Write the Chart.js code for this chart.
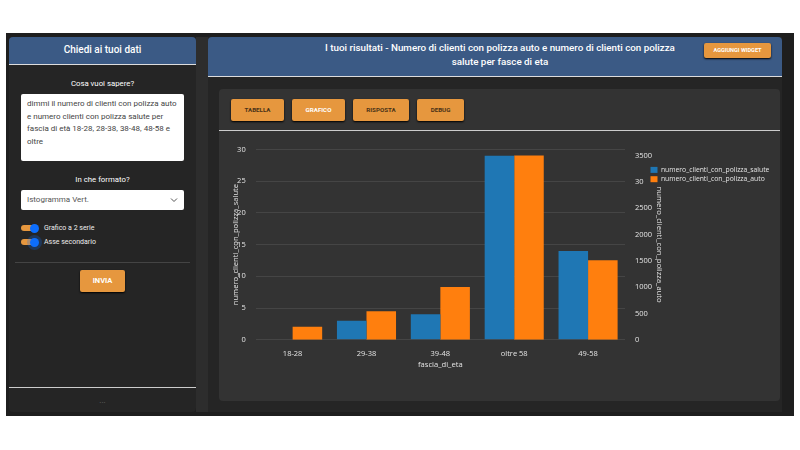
<!DOCTYPE html>
<html>
<head>
<meta charset="utf-8">
<script src="https://cdn.jsdelivr.net/npm/chart.js@4/dist/chart.umd.js"></script>
<style>
  html, body { margin: 0; padding: 0; background: #fff; }
  body { width: 800px; height: 450px; position: relative; overflow: hidden; font-family: Roboto, sans-serif; color: #fff; }
  .box { position: absolute; box-sizing: border-box; }
  .center { text-align: center; }
  .btn { position: absolute; box-sizing: border-box; background: #e6973e; border-radius: 2px; text-align: center; font-weight: 700; box-shadow: 0 1px 2px #000; }
  #frame { left: 6px; top: 33px; width: 788px; height: 383px; background: #1e1e1e; }
  #gutter { left: 196px; top: 37px; width: 12px; height: 375px; background: #2d2d2d; }
  #side { left: 9px; top: 37px; width: 187px; height: 375px; background: #252525; border-radius: 4px; }
  #sideHead { left: 9px; top: 37px; width: 187px; height: 28px; background: #3b5a85; border-bottom: 1px solid #ddd; border-radius: 4px 4px 0 0; font-size: 10px; font-weight: 500; line-height: 26px; }
  #main { left: 208px; top: 37px; width: 574px; height: 375px; background: #252525; }
  #mainHead { left: 208px; top: 37px; width: 574px; height: 40px; background: #3b5a85; border-bottom: 1px solid #ddd; border-radius: 4px 4px 0 0; }
  #mainTitle { left: 315px; top: 41px; width: 370px; font-size: 9.8px; font-weight: 500; line-height: 13.5px; }
  #panel { left: 219px; top: 89px; width: 561px; height: 312px; background: #333; border-radius: 4px; }
  #panelLine { left: 219px; top: 130px; width: 561px; height: 1px; background: #ccc; }
  #question { left: 21px; top: 94px; width: 163px; height: 67px; background: #fff; border-radius: 2px; color: #444; font-size: 8px; line-height: 12.6px; padding: 4px 6px; }
  #format { left: 21px; top: 190px; width: 163px; height: 20px; background: #fff; border-radius: 2px; color: #555; font-size: 8px; line-height: 20px; padding-left: 6px; }
  .label { font-size: 7.8px; }
  .small { font-size: 7px; color: #eee; }
  .track { position: absolute; left: 21px; width: 15px; height: 6px; background: #e6973e; border-radius: 3px; }
  .knob { position: absolute; left: 30px; width: 9px; height: 9px; background: #0d6efd; border-radius: 50%; }
  #chartBox { position: absolute; left: 220px; top: 135px; }
</style>
</head>
<body>
<div class="box" id="frame"></div>
<div class="box" id="gutter"></div>
<div class="box" id="side"></div>
<div class="box center" id="sideHead">Chiedi ai tuoi dati</div>
<div class="box center label" style="left:9px;top:79px;width:187px;">Cosa vuoi sapere?</div>
<div class="box" id="question">dimmi il numero di clienti con polizza auto e numero clienti con polizza salute per fascia di età 18-28, 28-38, 38-48, 48-58 e oltre</div>
<div class="box center label" style="left:9px;top:175px;width:187px;">In che formato?</div>
<div class="box" id="format">Istogramma Vert.</div>
<svg class="box" style="left:170px;top:197px;" width="8" height="6"><path d="M1 1.5 L4 4.5 L7 1.5" fill="none" stroke="#555" stroke-width="1"/></svg>
<div class="track" style="top:225px;"></div>
<div class="knob" style="top:223.5px;"></div>
<div class="box small" style="left:44px;top:224px;">Grafico a 2 serie</div>
<div class="track" style="top:239px;"></div>
<div class="knob" style="top:237.5px;box-shadow:0 0 0 3px rgba(13,110,253,.25);"></div>
<div class="box small" style="left:44px;top:238px;">Asse secondario</div>
<div class="box" style="left:15px;top:261.5px;width:175px;height:1px;background:#444;"></div>
<div class="btn" style="left:80px;top:270px;width:45px;height:22px;font-size:7.5px;line-height:22px;">INVIA</div>
<div class="box" style="left:9px;top:387px;width:187px;height:1px;background:#ccc;"></div>
<div class="box center" style="left:9px;top:396px;width:187px;font-size:8px;color:#666;">...</div>

<div class="box" id="main"></div>
<div class="box" id="mainHead"></div>
<div class="box center" id="mainTitle">I tuoi risultati - Numero di clienti con polizza auto e numero di clienti con polizza salute per fasce di eta</div>
<div class="btn" style="left:704px;top:43px;width:67px;height:15px;font-size:5.6px;line-height:15px;">AGGIUNGI WIDGET</div>
<div class="box" id="panel"></div>
<div class="box" id="panelLine"></div>
<div class="btn" style="left:231px;top:99px;width:53px;height:22px;font-size:6.2px;line-height:22px;color:#4a3217;">TABELLA</div>
<div class="btn" style="left:292px;top:99px;width:53px;height:22px;font-size:6.2px;line-height:22px;color:#fff;">GRAFICO</div>
<div class="btn" style="left:353px;top:99px;width:56px;height:22px;font-size:6.2px;line-height:22px;color:#4a3217;">RISPOSTA</div>
<div class="btn" style="left:417px;top:99px;width:47px;height:22px;font-size:6.2px;line-height:22px;color:#4a3217;">DEBUG</div>

<div id="chartBox"><canvas id="chart" width="572" height="240"></canvas></div>

<script>
var categories = ['18-28', '29-38', '39-48', 'oltre 58', '49-58'];
var saluteValues = [0, 3, 4, 29, 14];
var autoValues = [245, 540, 1000, 3500, 1510];
var rightTickValues = [0, 500, 1000, 1500, 2000, 2500, 3000, 3500];
// the legend hides the last two digits of 3000 in the reference
var rightTickLabels = ['0', '500', '1000', '1500', '2000', '2500', '30', '3500'];

var tickFont = { family: 'Open Sans', size: 7.5 };
var titleFont = { family: 'Open Sans', size: 7.6 };
var textColor = '#e4e4e4';

// moves the legend over the axis title, as the reference has it
var legendMove = {
    id: 'legendMove',
    afterLayout: function (chart) {
        var l = chart.legend;
        var w = l.right - l.left;
        l.left = 428;
        l.right = l.left + w;
        l.top = 29;
        l.bottom = 70;
    }
};

new Chart(document.getElementById('chart'), {
    type: 'bar',
    plugins: [legendMove],
    data: {
        labels: categories,
        datasets: [
            { label: 'numero_clienti_con_polizza_salute', data: saluteValues, backgroundColor: '#1f77b4', yAxisID: 'y' },
            { label: 'numero_clienti_con_polizza_auto', data: autoValues, backgroundColor: '#ff7f0e', yAxisID: 'y1' }
        ]
    },
    options: {
        responsive: false,
        animation: false,
        layout: { padding: { top: 12.3, left: 0, right: 0, bottom: 0 } },
        datasets: { bar: { categoryPercentage: 0.8, barPercentage: 1 } },
        plugins: {
            tooltip: { enabled: false },
            legend: {
                position: 'right',
                align: 'start',
                maxWidth: 130,
                labels: { boxWidth: 7, boxHeight: 6, padding: 2.5, color: textColor, font: { family: 'Open Sans', size: 6.8 } }
            }
        },
        scales: {
            x: {
                grid: { display: false, drawTicks: false },
                border: { display: false },
                ticks: { color: textColor, font: tickFont, padding: 10, maxRotation: 0 },
                title: { display: true, text: 'fascia_di_eta', color: textColor, font: titleFont, padding: { top: 0, bottom: 6 } },
                afterFit: function (s) { s.height = 35.3; }
            },
            y: {
                position: 'left',
                min: 0,
                max: 30,
                grid: { color: '#454545', drawTicks: false },
                border: { display: false },
                ticks: { stepSize: 5, color: textColor, font: tickFont, padding: 10 },
                title: { display: true, text: 'numero_clienti_con_polizza_salute', color: textColor, font: titleFont, padding: { top: 11, bottom: 0 } },
                afterFit: function (s) { s.width = 35.7; }
            },
            y1: {
                position: 'right',
                min: 0,
                max: 3613,
                grid: { display: false, drawTicks: false },
                border: { display: false },
                // stepSize gets stretched because 3613 is not a multiple of 500
                afterBuildTicks: function (s) {
                    s.ticks = rightTickValues.map(function (v) { return { value: v }; });
                },
                ticks: {
                    autoSkip: false,
                    color: textColor,
                    font: tickFont,
                    padding: 10,
                    callback: function (value, i) { return rightTickLabels[i]; }
                },
                title: { display: true, text: 'numero_clienti_con_polizza_auto', color: textColor, font: titleFont, padding: { top: -2, bottom: 0 } },
                afterFit: function (s) { s.width = 37; }
            }
        }
    }
});
</script>
</body>
</html>
